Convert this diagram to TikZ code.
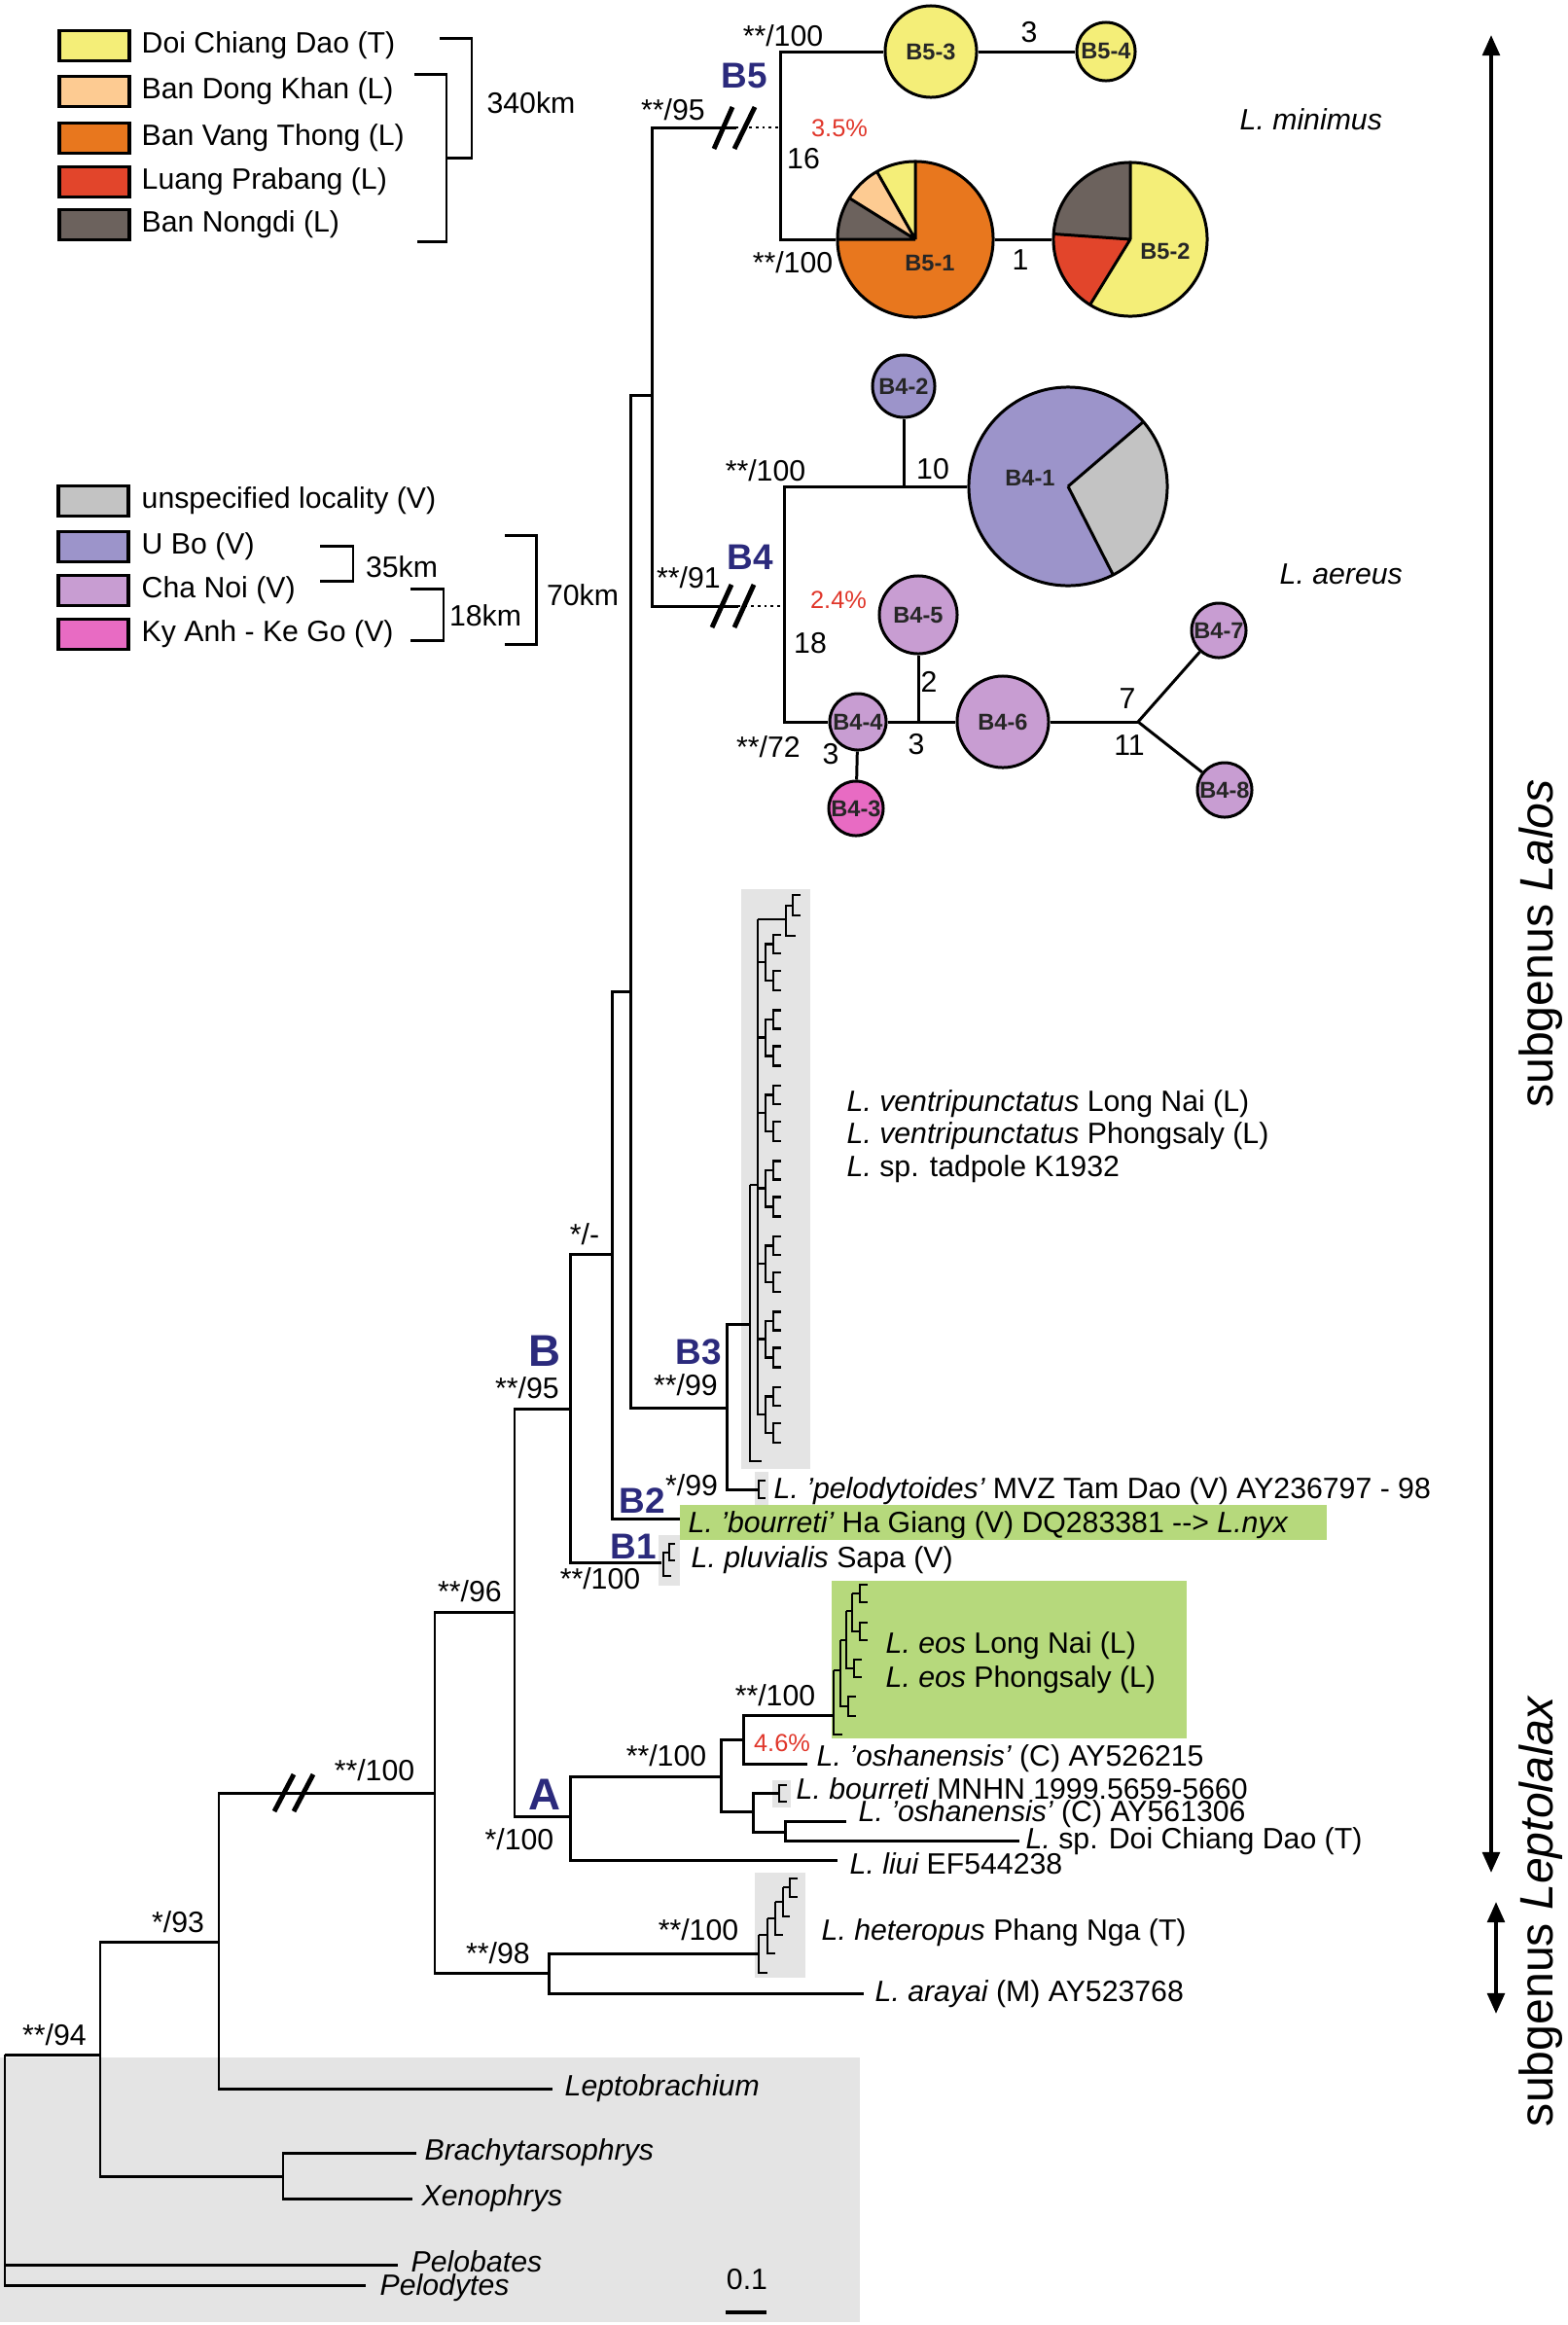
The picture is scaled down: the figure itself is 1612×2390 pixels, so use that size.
\documentclass[tikz,border=0pt]{standalone}
\usepackage{fontspec}
\setmainfont{Liberation Sans}
\usetikzlibrary{arrows.meta}
\definecolor{cyel}{HTML}{F4EE78}
\definecolor{cpeach}{HTML}{FDCB92}
\definecolor{corange}{HTML}{E8771E}
\definecolor{cred}{HTML}{E2452B}
\definecolor{cbrown}{HTML}{6C625D}
\definecolor{cgrayloc}{HTML}{C3C3C3}
\definecolor{cubo}{HTML}{9C94CA}
\definecolor{cchanoi}{HTML}{C89DD2}
\definecolor{ckyanh}{HTML}{E86BC3}
\definecolor{bggray}{HTML}{E4E4E4}
\definecolor{bggreen}{HTML}{B6D97C}
\definecolor{cladeblue}{HTML}{2B2A7C}
\definecolor{pctred}{HTML}{E0362A}
\newcommand\wedgefill[5]{\fill[#5] (#1) -- ++(#3:#2) arc[start angle=#3, end angle=#4, radius=#2] -- cycle;}
\newcommand\minibr[3]{\draw[mini] (#1+8,#2) -- (#1,#2) -- (#1,#3) -- (#1+8,#3);}
\begin{document}
\begin{tikzpicture}[x=0.01cm,y=-0.01cm,
  br/.style={line width=0.85pt},
  mini/.style={line width=0.7pt},
  dots/.style={line width=0.7pt, dash pattern=on 0.7pt off 1.2pt},
  lab/.style={font=\fontsize{8.6}{10}\selectfont, inner sep=0pt},
  tx/.style={lab, anchor=west},
  cl/.style={font=\fontsize{10.5}{12}\selectfont\bfseries, text=cladeblue, inner sep=0pt},
  bigcl/.style={font=\fontsize{13}{15}\selectfont\bfseries, text=cladeblue, inner sep=0pt},
  pct/.style={font=\fontsize{7.2}{9}\selectfont, text=pctred, inner sep=0pt},
  hap/.style={circle, draw, line width=0.85pt, inner sep=0pt, font=\fontsize{6.7}{8}\selectfont\bfseries, text=black!85},
  hlab/.style={inner sep=0pt, font=\fontsize{6.7}{8}\selectfont\bfseries, text=black!85},
  lbox/.style={draw, line width=1pt, minimum width=0.72cm, minimum height=0.31cm, inner sep=0pt},
  brk/.style={line width=1.4pt},
  arr/.style={line width=1.1pt, {Triangle[length=6pt,width=5pt]}-{Triangle[length=6pt,width=5pt]}},
  subg/.style={font=\fontsize{13.7}{16}\selectfont, inner sep=0pt, rotate=90},
]
\useasboundingbox (0,0) rectangle (1612,2390);

% ---------- background boxes ----------
\fill[bggray] (0,2115) rectangle (884,2387);
\fill[bggray] (762,914) rectangle (833,1510);
\fill[bggray] (776,1513) rectangle (790,1550);
\fill[bggray] (677,1578) rectangle (699,1630);
\fill[bggray] (794,1830) rectangle (813,1858);
\fill[bggray] (776,1925) rectangle (828,2033);
\fill[bggreen] (699,1547) rectangle (1364,1583);
\fill[bggreen] (855,1625) rectangle (1220,1787);

% ---------- legend 1 ----------
\foreach \c/\y/\t [count=\i] in {cyel/47/Doi Chiang Dao (T), cpeach/94/Ban Dong Khan (L), corange/142/Ban Vang Thong (L), cred/187/Luang Prabang (L), cbrown/231/Ban Nongdi (L)}{
  \node[lbox, fill=\c] (lb\i) at (97,\y) {};
  \node[tx] (lt\i) at (145,\y) {\t};
}
\draw[br] (426,76) -- (459,76) -- (459,248) -- (429,248);
\draw[br] (452,39) -- (485,39) -- (485,162) -- (459,162);
\node[lab] (km340) at (546,106) {340km};

% ---------- legend 2 ----------
\foreach \c/\y/\t [count=\i] in {cgrayloc/515/unspecified locality (V), cubo/562/U Bo (V), cchanoi/607/Cha Noi (V), ckyanh/652/Ky Anh - Ke Go (V)}{
  \node[lbox, fill=\c] (mb\i) at (96,\y) {};
  \node[tx] (mt\i) at (145,\y) {\t};
}
\draw[br] (329,561) -- (363,561) -- (363,597) -- (329,597);
\draw[br] (422,605) -- (456,605) -- (456,658) -- (422,658);
\draw[br] (519,550) -- (551,550) -- (551,662) -- (519,662);
\node[lab] (km35) at (413,583) {35km};
\node[lab] (km18) at (499,633) {18km};
\node[lab] (km70) at (599,612) {70km};

% ---------- tree coordinates ----------
\coordinate (root) at (5,2112);
\coordinate (n103) at (103,2112);
\coordinate (n225) at (225,1996);
\coordinate (n291) at (291,2237);
\coordinate (n447) at (447,1843);
\coordinate (n564) at (564,2028);
\coordinate (n529) at (529,1657);
\coordinate (nA) at (586,1867);
\coordinate (n741) at (741,1826);
\coordinate (n764) at (764,1788);
\coordinate (n774) at (774,1862);
\coordinate (n807) at (807,1883);
\coordinate (nB) at (586,1448);
\coordinate (n629) at (629,1289);
\coordinate (n648) at (648,1019);
\coordinate (n747) at (747,1447);
\coordinate (n670) at (670,406);
\coordinate (b5brk) at (757,131);
\coordinate (nB5) at (802,131);
\coordinate (b4brk) at (759,623);
\coordinate (nB4) at (806,623);
% leaf ends
\coordinate (ePelob) at (409,2328);
\coordinate (ePelod) at (376,2349);
\coordinate (eBrach) at (428,2213);
\coordinate (eXeno) at (424,2260);
\coordinate (eLepto) at (568,2147);
\coordinate (eHet) at (780,2008);
\coordinate (eAra) at (888,2049);
\coordinate (eLiui) at (861,1912);
\coordinate (eEos) at (857,1763);
\coordinate (eOsh1) at (830,1813);
\coordinate (eBour) at (801,1843);
\coordinate (eOsh2) at (870,1872);
\coordinate (eSpD) at (1048,1892);
\coordinate (eB1) at (680,1606);
\coordinate (eB2) at (699,1561);
\coordinate (eB3) at (771,1361);
\coordinate (ePelo) at (780,1531);

% ---------- tree branches ----------
\draw[br] (root) -- (n103);
\draw[br] (root) |- (ePelob);
\draw[br] (root) |- (ePelod);
\draw[br] (n103) |- (n225);
\draw[br] (n103) |- (n291);
\draw[br] (n291) |- (eBrach);
\draw[br] (n291) |- (eXeno);
\draw[br] (n225) |- (n447);
\draw[br] (n225) |- (eLepto);
\draw[br] (n447) |- (n529);
\draw[br] (n447) |- (n564);
\draw[br] (n564) |- (eHet);
\draw[br] (n564) |- (eAra);
\draw[br] (n529) |- (nB);
\draw[br] (n529) |- (nA);
\draw[br] (nA) |- (n741);
\draw[br] (nA) |- (eLiui);
\draw[br] (n741) |- (n764);
\draw[br] (n741) |- (n774);
\draw[br] (n764) |- (eEos);
\draw[br] (n764) |- (eOsh1);
\draw[br] (n774) |- (eBour);
\draw[br] (n774) |- (n807);
\draw[br] (n807) |- (eOsh2);
\draw[br] (n807) |- (eSpD);
\draw[br] (nB) |- (n629);
\draw[br] (nB) |- (eB1);
\draw[br] (n629) |- (n648);
\draw[br] (n629) |- (eB2);
\draw[br] (n648) |- (n670);
\draw[br] (n648) |- (n747);
\draw[br] (n747) |- (eB3);
\draw[br] (n747) |- (ePelo);
\draw[br] (n670) |- (b5brk);
\draw[dots] (b5brk) -- (nB5);
\draw[br] (n670) |- (b4brk);
\draw[dots] (b4brk) -- (nB4);
% break marks
\draw[brk] (282,1862) -- (302,1824);
\draw[brk] (302,1862) -- (322,1824);
\draw[brk] (734,153) -- (753,110);
\draw[brk] (755,153) -- (776,110);
\draw[brk] (732,645) -- (752,601);
\draw[brk] (755,645) -- (775,601);

% ---------- mini clades ----------
% B3
\draw[mini] (771,1218) -- (771,1502) -- (783,1502);
\draw[mini] (771,1218) -- (779,1218);
\draw[mini] (779,945) -- (779,1455);
\draw[mini] (779,945) -- (808,945);
\draw[mini] (815,931) -- (808,931) -- (808,962) -- (818,962);
\minibr{815}{920}{941}
\foreach \i in {0,...,6}{
  \pgfmathsetmacro\ya{961+77.5*\i}
  \draw[mini] (779,\ya+28) -- (787,\ya+28);
  \draw[mini] (795,\ya+9.5) -- (787,\ya+9.5) -- (787,\ya+47) -- (795,\ya+47);
  \minibr{795}{\ya}{\ya+19}
  \minibr{795}{\ya+37}{\ya+57}
}
% pelodytoides
\draw[mini] (787,1522) -- (780,1522) -- (780,1540) -- (787,1540);
% pluvialis
\draw[mini] (690,1620) -- (682,1620) -- (682,1596) -- (688,1596);
\draw[mini] (694,1587) -- (688,1587) -- (688,1604) -- (694,1604);
% bourreti MNHN
\minibr{801}{1835}{1852}
% eos
\draw[mini] (857,1717) -- (857,1783) -- (866,1783);
\draw[mini] (857,1717) -- (864,1717);
\draw[mini] (864,1686) -- (864,1754) -- (872,1754);
\minibr{872}{1744}{1764}
\draw[mini] (864,1686) -- (870,1686);
\draw[mini] (870,1656) -- (870,1715) -- (878,1715);
\minibr{878}{1706}{1724}
\draw[mini] (870,1656) -- (876,1656);
\draw[mini] (876,1638) -- (876,1677) -- (884,1677);
\draw[mini] (876,1638) -- (884,1638);
\minibr{884}{1668}{1686}
\minibr{884}{1629}{1647}
% heteropus
\draw[mini] (780,1989) -- (780,2028) -- (789,2028);
\draw[mini] (780,1989) -- (789,1989);
\draw[mini] (789,1972) -- (789,2008) -- (797,2008);
\draw[mini] (789,1972) -- (797,1972);
\draw[mini] (797,1955) -- (797,1989) -- (805,1989);
\draw[mini] (797,1955) -- (805,1955);
\draw[mini] (805,1940) -- (805,1970) -- (812,1970);
\draw[mini] (805,1940) -- (812,1940);
\minibr{812}{1931}{1950}

% ---------- haplotype networks ----------
\coordinate (cB51) at (941,246);
\coordinate (cB52) at (1162,246);
\coordinate (cB41) at (1098,500);
\wedgefill{cB51}{80}{-180}{-450}{corange}
\wedgefill{cB51}{80}{-90}{-119.6}{cyel}
\wedgefill{cB51}{80}{-119.6}{-148}{cpeach}
\wedgefill{cB51}{80}{-148}{-180}{cbrown}
\draw[line width=0.85pt] (cB51) -- ++(-90:80) (cB51) -- ++(-119.6:80) (cB51) -- ++(-148:80) (cB51) -- ++(-180:80);
\wedgefill{cB52}{79}{-90}{-176}{cbrown}
\wedgefill{cB52}{79}{-176}{-238.4}{cred}
\wedgefill{cB52}{79}{-238.4}{-450}{cyel}
\draw[line width=0.85pt] (cB52) -- ++(-90:79) (cB52) -- ++(-176:79) (cB52) -- ++(-238.4:79);
\wedgefill{cB41}{102}{-40.6}{-297}{cubo}
\wedgefill{cB41}{102}{63}{-40.6}{cgrayloc}
\draw[line width=0.85pt] (cB41) -- ++(-40.6:102) (cB41) -- ++(63:102);

\node[hap, fill=cyel, minimum size=0.94cm] (b53) at (957,53) {B5-3};
\node[hap, fill=cyel, minimum size=0.60cm] (b54) at (1137,53) {B5-4};
\node[hap, minimum size=1.60cm] (b51) at (cB51) {};
\node[hap, minimum size=1.58cm] (b52) at (cB52) {};
\node[hlab] (b51t) at (956,270) {B5-1};
\node[hlab] (b52t) at (1198,258) {B5-2};
\node[hap, fill=cubo, minimum size=0.64cm] (b42) at (929,397) {B4-2};
\node[hap, minimum size=2.04cm] (b41) at (cB41) {};
\node[hlab] (b41t) at (1059,491) {B4-1};
\node[hap, fill=cchanoi, minimum size=0.80cm] (b45) at (944,632) {B4-5};
\node[hap, fill=cchanoi, minimum size=0.58cm] (b44) at (882,742) {B4-4};
\node[hap, fill=ckyanh, minimum size=0.56cm] (b43) at (880,831) {B4-3};
\node[hap, fill=cchanoi, minimum size=0.94cm] (b46) at (1031,742) {B4-6};
\node[hap, fill=cchanoi, minimum size=0.56cm] (b47) at (1253,648) {B4-7};
\node[hap, fill=cchanoi, minimum size=0.56cm] (b48) at (1259,812) {B4-8};

\draw[br] (nB5) |- (b53);
\draw[br] (nB5) |- (b51);
\draw[br] (b53) -- (b54);
\draw[br] (b51) -- (b52);
\draw[br] (nB4) |- (b41);
\coordinate (j42) at (929,500);
\draw[br] (j42) -- (b42);
\draw[br] (nB4) |- (b44);
\draw[br] (b44) -- (b46);
\coordinate (j45) at (944,742);
\draw[br] (j45) -- (b45);
\draw[br] (b44) -- (b43);
\coordinate (fk) at (1170,742);
\draw[br] (b46) -- (fk);
\draw[br] (fk) -- (b47);
\draw[br] (fk) -- (b48);

% ---------- network labels ----------
\node[lab] (s1) at (805,37) {**/100};
\node[cl] (cB5) at (765,78) {B5};
\node[lab] (s2) at (692,113) {**/95};
\node[pct] (p35) at (863,132) {3.5\%};
\node[lab] (m16) at (826,163) {16};
\node[lab] (s3) at (815,270) {**/100};
\node[lab] (m3a) at (1058,33) {3};
\node[lab] (m1) at (1049,267) {1};
\node[tx, font=\fontsize{8.6}{10}\selectfont\itshape] (tmin) at (1274,123) {L. minimus};
\node[lab] (s4) at (787,484) {**/100};
\node[lab] (m10) at (959,482) {10};
\node[cl] (cB4) at (771,573) {B4};
\node[lab] (s5) at (708,594) {**/91};
\node[pct] (p24) at (862,617) {2.4\%};
\node[lab] (m18) at (833,661) {18};
\node[lab] (m2) at (955,701) {2};
\node[lab] (s6) at (790,768) {**/72};
\node[lab] (m3b) at (854,775) {3};
\node[lab] (m3c) at (942,765) {3};
\node[lab] (m7) at (1159,718) {7};
\node[lab] (m11) at (1161,766) {11};
\node[tx, font=\fontsize{8.6}{10}\selectfont\itshape] (taer) at (1315,590) {L. aereus};

% ---------- tree labels ----------
\node[lab] (s7) at (601,1269) {*/-};
\node[bigcl] (cB) at (560,1389) {B};
\node[lab] (s8) at (542,1427) {**/95};
\node[cl] (cB3) at (718,1390) {B3};
\node[lab] (s9) at (705,1424) {**/99};
\node[lab] (s10) at (711,1527) {*/99};
\node[cl] (cB2) at (660,1543) {B2};
\node[cl] (cB1) at (651,1590) {B1};
\node[lab] (s11) at (617,1623) {**/100};
\node[lab] (s12) at (483,1636) {**/96};
\node[lab] (s13) at (385,1820) {**/100};
\node[bigcl] (cA) at (560,1845) {A};
\node[lab] (s14) at (534,1891) {*/100};
\node[lab] (s15) at (685,1805) {**/100};
\node[lab] (s16) at (797,1743) {**/100};
\node[pct] (p46) at (804,1792) {4.6\%};
\node[lab] (s17) at (183,1976) {*/93};
\node[lab] (s18) at (512,2008) {**/98};
\node[lab] (s19) at (718,1984) {**/100};
\node[lab] (s20) at (56,2092) {**/94};

\node[tx] (tv1) at (870,1135) {\itshape L. ventripunctatus\upshape\ Long Nai (L)};
\node[tx] (tv2) at (870,1168) {\itshape L. ventripunctatus\upshape\ Phongsaly (L)};
\node[tx] (tv3) at (870,1202) {\itshape L.\upshape\ sp. tadpole K1932};
\node[tx] (tpel) at (795,1533) {\itshape L. 'pelodytoides'\upshape\ MVZ Tam Dao (V) AY236797 - 98};
\node[tx] (tbhg) at (707,1568) {\itshape L. 'bourreti'\upshape\ Ha Giang (V) DQ283381 -{}-{}> \itshape L.nyx};
\node[tx] (tplu) at (710,1604) {\itshape L. pluvialis\upshape\ Sapa (V)};
\node[tx] (teo1) at (910,1692) {\itshape L. eos\upshape\ Long Nai (L)};
\node[tx] (teo2) at (910,1727) {\itshape L. eos\upshape\ Phongsaly (L)};
\node[tx] (tos1) at (839,1808) {\itshape L. 'oshanensis'\upshape\ (C) AY526215};
\node[tx] (tbou) at (818,1839) {\itshape L. bourreti\upshape\ MNHN 1999.5659-5660};
\node[tx] (tos2) at (882,1865) {\itshape L. 'oshanensis'\upshape\ (C) AY561306};
\node[tx] (tspd) at (1054,1893) {\itshape L.\upshape\ sp. Doi Chiang Dao (T)};
\node[tx] (tliu) at (873,1916) {\itshape L. liui\upshape\ EF544238};
\node[tx] (thet) at (844,1987) {\itshape L. heteropus\upshape\ Phang Nga (T)};
\node[tx] (tara) at (899,2050) {\itshape L. arayai\upshape\ (M) AY523768};
\node[tx] (tlep) at (580,2147) {\itshape Leptobrachium};
\node[tx] (tbra) at (436,2213) {\itshape Brachytarsophrys};
\node[tx] (txen) at (433,2260) {\itshape Xenophrys};
\node[tx] (tpelb) at (422,2325) {\itshape Pelobates};
\node[tx] (tpeld) at (390,2352) {\itshape Pelodytes};
\node[lab] (tsc) at (768,2343) {0.1};
\coordinate (sc1) at (746,2377);
\coordinate (sc2) at (788,2377);
\draw[line width=1.1pt] (sc1) -- (sc2);

% ---------- subgenus arrows ----------
\coordinate (aL1) at (1533,36);
\coordinate (aL2) at (1533,1925);
\coordinate (aS1) at (1538,1955);
\coordinate (aS2) at (1538,2070);
\draw[arr] (aL1) -- (aL2);
\draw[arr] (aS1) -- (aS2);
\node[subg] (tlalos) at (1584,970) {subgenus \itshape Lalos};
\node[subg] (tlepto) at (1584,1965) {subgenus \itshape Leptolalax};
\end{tikzpicture}
\end{document}
